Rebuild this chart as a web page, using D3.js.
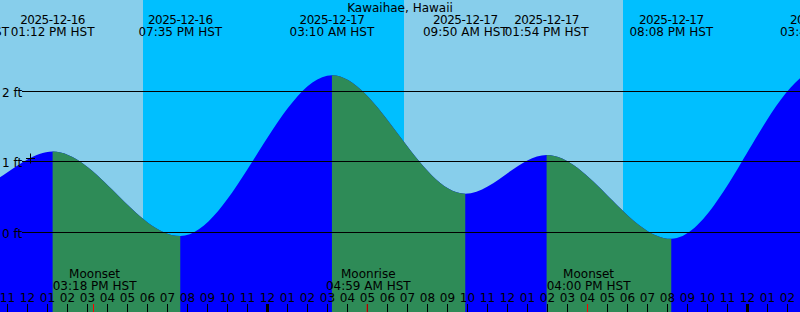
<!DOCTYPE html>
<html><head><meta charset="utf-8">
<script src="https://cdn.jsdelivr.net/npm/d3@7"></script>
<style>
html,body{margin:0;padding:0;background:#fff;overflow:hidden}
svg{display:block;font-family:"DejaVu Sans",sans-serif;font-size:12px}
</style></head><body>
<svg id="c" width="800" height="312"></svg>
<script>
// ---- data ----
const title = "Kawaihae, Hawaii";
// tide extremes (first and last lie outside the visible window)
const tideTimes   = ["2025-12-16 02:30","2025-12-16 08:54","2025-12-16 13:12","2025-12-16 19:35","2025-12-17 03:10","2025-12-17 09:50","2025-12-17 13:54","2025-12-17 20:08","2025-12-18 03:41","2025-12-18 10:30"];
const tideHeights = [2.20, 0.60, 1.15, -0.05, 2.23, 0.55, 1.10, -0.09, 2.33, 0.50];
const sunriseTimes = ["2025-12-16 06:46","2025-12-17 06:46"];
const sunsetTimes  = ["2025-12-16 17:43","2025-12-17 17:43"];
const moonTimes  = ["2025-12-16 15:18","2025-12-17 04:59","2025-12-17 16:00"];
const moonEvents = ["Moonset","Moonrise","Moonset"];
const yTicks = [0, 1, 2];
const yTickLabels = ["0 ft","1 ft","2 ft"];
const nowTime = "2025-12-16 12:06";
const nowLevel = 1.04;
const viewStart = "2025-12-16 10:34:12";
const viewEnd   = "2025-12-18 02:34:12";

// ---- layout / style ----
const W = 800, H = 312;
const colDay = "#87CEEB", colNight = "#00BFFF", colRise = "#0000FF", colFall = "#2E8B57";

const parse = d3.timeParse("%Y-%m-%d %H:%M");
const parseS = d3.timeParse("%Y-%m-%d %H:%M:%S");
const fmtDate = d3.timeFormat("%Y-%m-%d");
const fmtTime = d3.timeFormat("%I:%M %p HST");

const t0 = parseS(viewStart), t1 = parseS(viewEnd);
const x = d3.scaleTime().domain([t0, t1]).range([0, W]);
const y = d3.scaleLinear().domain([0, 2]).range([232.5, 91.5]);

const svg = d3.select("#c");

// background: night then day
svg.append("rect").attr("x",0).attr("y",0).attr("width",W).attr("height",H).attr("fill",colNight);
svg.append("g").selectAll("rect").data(sunriseTimes.map((s,i)=>[parse(s), parse(sunsetTimes[i])]))
  .join("rect")
  .attr("x", d=>Math.max(0, x(d[0])))
  .attr("width", d=>Math.min(W, x(d[1])) - Math.max(0, x(d[0])))
  .attr("y",0).attr("height",H)
  .attr("fill",colDay).attr("shape-rendering","crispEdges");

// tide curve
const tide = tideTimes.map((s,i)=>({t: parse(s), h: tideHeights[i]}));
const area = d3.area().x(d=>x(d.t)).y0(H).y1(d=>y(d.h)).curve(d3.curveMonotoneX);
const defs = svg.append("defs");
svg.append("path").datum(tide).attr("d", area).attr("fill", colRise);
tide.slice(0,-1).forEach((d,i)=>{
  const n = tide[i+1];
  if (n.h < d.h) {
    const id = "fall"+i;
    defs.append("clipPath").attr("id", id).append("rect")
      .attr("x", x(d.t)).attr("width", x(n.t)-x(d.t)).attr("y",0).attr("height",H);
    svg.append("path").datum(tide).attr("d", area).attr("fill", colFall).attr("clip-path", `url(#${id})`);
  }
});

// horizontal grid lines + labels
const gy = svg.append("g");
gy.selectAll("line").data(yTicks).join("line")
  .attr("x1",22).attr("x2",W)
  .attr("y1", d=>Math.round(y(d))-0.5).attr("y2", d=>Math.round(y(d))-0.5)
  .attr("stroke","#000").attr("stroke-width",1);
gy.selectAll("text").data(yTicks).join("text")
  .attr("x",2).attr("y", d=>Math.round(y(d))+4.5)
  .attr("fill","#000").text((d,i)=>yTickLabels[i]);

// current-time marker
const nx = Math.floor(x(parse(nowTime)))+0.5, ny = Math.round(y(nowLevel))-0.5;
svg.append("path").attr("d", `M${nx-4.5},${ny}H${nx+4.5}M${nx},${ny-5}V${ny+5}`)
  .attr("stroke","#000").attr("stroke-width",1).attr("fill","none");

// title
svg.append("text").attr("x",W/2).attr("y",12).attr("text-anchor","middle").attr("fill","#000").text(title);

// tide event labels
const gl = svg.append("g").attr("text-anchor","middle").attr("fill","#000");
tide.forEach(d=>{
  gl.append("text").attr("x", x(d.t)).attr("y",24).attr("letter-spacing","-0.5px").text(fmtDate(d.t));
  gl.append("text").attr("x", x(d.t)).attr("y",36).text(fmtTime(d.t));
});

// moon labels
const gm = svg.append("g").attr("text-anchor","middle").attr("fill","#000");
moonTimes.forEach((s,i)=>{
  const t = parse(s);
  gm.append("text").attr("x", x(t)).attr("y",278).text(moonEvents[i]);
  gm.append("text").attr("x", x(t)).attr("y",290).text(fmtTime(t));
});

// hour axis
const xa = x.copy().range([-1.6, W-1.6]);
const hours = d3.timeHour.range(d3.timeHour.ceil(t0), t1);
const ax = svg.append("g").attr("transform",`translate(0,${H})`)
  .call(d3.axisTop(xa).tickValues(hours).tickFormat(d3.timeFormat("%I")).tickSize(8).tickPadding(2));
ax.select(".domain").remove();
ax.attr("font-family",'"DejaVu Sans",sans-serif').attr("font-size",12);
ax.selectAll(".tick line").attr("stroke","#000")
  .attr("stroke-width", d=>d.getHours()===0 ? 3 : 1);
ax.selectAll(".tick text").attr("fill","#000");

// moon ticks
const am = svg.append("g").attr("transform",`translate(0,${H})`)
  .call(d3.axisTop(xa).tickValues(moonTimes.map(parse)).tickFormat("").tickSize(8));
am.select(".domain").remove();
am.selectAll(".tick line").attr("stroke","#FF0000");
</script>
</body></html>
